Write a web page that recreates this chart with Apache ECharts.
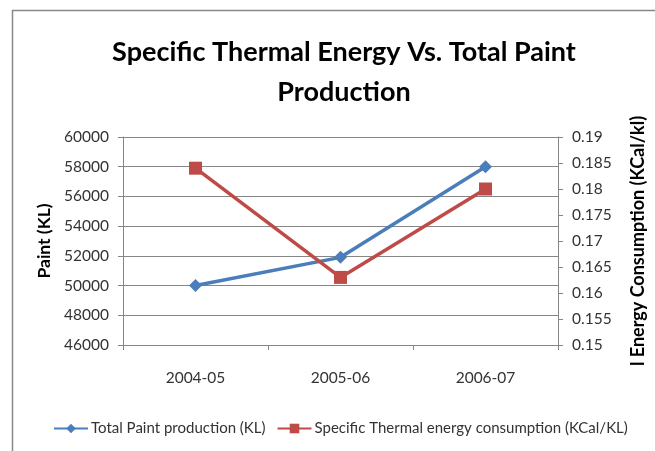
<!DOCTYPE html>
<html><head><meta charset="utf-8">
<script src="https://cdn.jsdelivr.net/npm/echarts@6/dist/echarts.min.js"></script>
<style>html,body{margin:0;padding:0;background:#fff}#c{width:655px;height:451px}</style>
</head><body><div id="c"></div>
<script>
const categories = ['2004-05', '2005-06', '2006-07'];
const paintProduction = [50000, 51900, 58000];
const thermalEnergy = [0.184, 0.163, 0.180];
const leftTicks = [46000, 60000, 2000];
const rightTicks = [0.15, 0.19, 0.005];

const FN = 'Lato, "Liberation Sans", sans-serif';
const chart = echarts.init(document.getElementById('c'), null, {renderer: 'canvas'});
chart.setOption({
  animation: false,
  title: {
    text: 'Specific Thermal Energy Vs. Total Paint\nProduction',
    left: 339, top: 27, textAlign: 'center',
    textStyle: {fontFamily: FN, fontSize: 27, fontWeight: 'bold', color: '#000', lineHeight: 40}
  },
  graphic: [{type: 'rect', shape: {x: 12.5, y: 10.5, width: 800, height: 600}, style: {fill: 'none', stroke: '#888', lineWidth: 1.5}, silent: true}],
  grid: {left: 123, right: 93, top: 137, bottom: 106},
  legend: {
    bottom: 10, left: 48, orient: 'horizontal', width: 620,
    itemWidth: 34, itemHeight: 12, itemGap: 11,
    textStyle: {fontFamily: FN, fontSize: 15, color: '#333', padding: [0, 0, 0, -2]},
    data: ['Total Paint production (KL)', 'Specific Thermal energy consumption (KCal/KL)']
  },
  xAxis: {
    type: 'category', data: categories, boundaryGap: true,
    axisLine: {lineStyle: {color: '#868686', width: 1}},
    axisTick: {show: true, length: 5, lineStyle: {color: '#868686'}},
    axisLabel: {fontFamily: FN, fontSize: 15.5, color: '#333', margin: 25}
  },
  yAxis: [{
    type: 'value', min: leftTicks[0], max: leftTicks[1], interval: leftTicks[2],
    name: 'Paint (KL)', nameLocation: 'middle', nameGap: 69, nameRotate: 90,
    nameTextStyle: {fontFamily: FN, fontSize: 17.5, fontWeight: 'bold', color: '#000'},
    axisLine: {show: true, lineStyle: {color: '#868686'}},
    axisTick: {show: true, length: 5, lineStyle: {color: '#868686'}},
    axisLabel: {fontFamily: FN, fontSize: 15.5, color: '#333', margin: 14, formatter: v => String(v)},
    splitLine: {lineStyle: {color: '#868686', width: 1}}
  }, {
    type: 'value', min: rightTicks[0], max: rightTicks[1], interval: rightTicks[2],
    name: 'l Energy Consumption (KCal/kl)', nameLocation: 'middle', nameGap: 71, nameRotate: 90,
    nameTextStyle: {fontFamily: FN, fontSize: 18, fontWeight: 'bold', color: '#000'},
    axisLine: {show: true, lineStyle: {color: '#868686'}},
    axisTick: {show: true, length: 5, lineStyle: {color: '#868686'}},
    axisLabel: {fontFamily: FN, fontSize: 15.5, color: '#333', margin: 14,
      formatter: v => String(parseFloat(v.toFixed(3)))},
    splitLine: {show: false}
  }],
  series: [{
    name: 'Total Paint production (KL)', type: 'line', yAxisIndex: 0, data: paintProduction,
    symbol: 'diamond', symbolSize: 13,
    lineStyle: {color: '#4A7EBB', width: 3.5}, itemStyle: {color: '#4A7EBB'}
  }, {
    name: 'Specific Thermal energy consumption (KCal/KL)', type: 'line', yAxisIndex: 1, data: thermalEnergy,
    symbol: 'rect', symbolSize: 13,
    lineStyle: {color: '#BE4B48', width: 3.5}, itemStyle: {color: '#BE4B48'}
  }]
});
</script></body></html>
